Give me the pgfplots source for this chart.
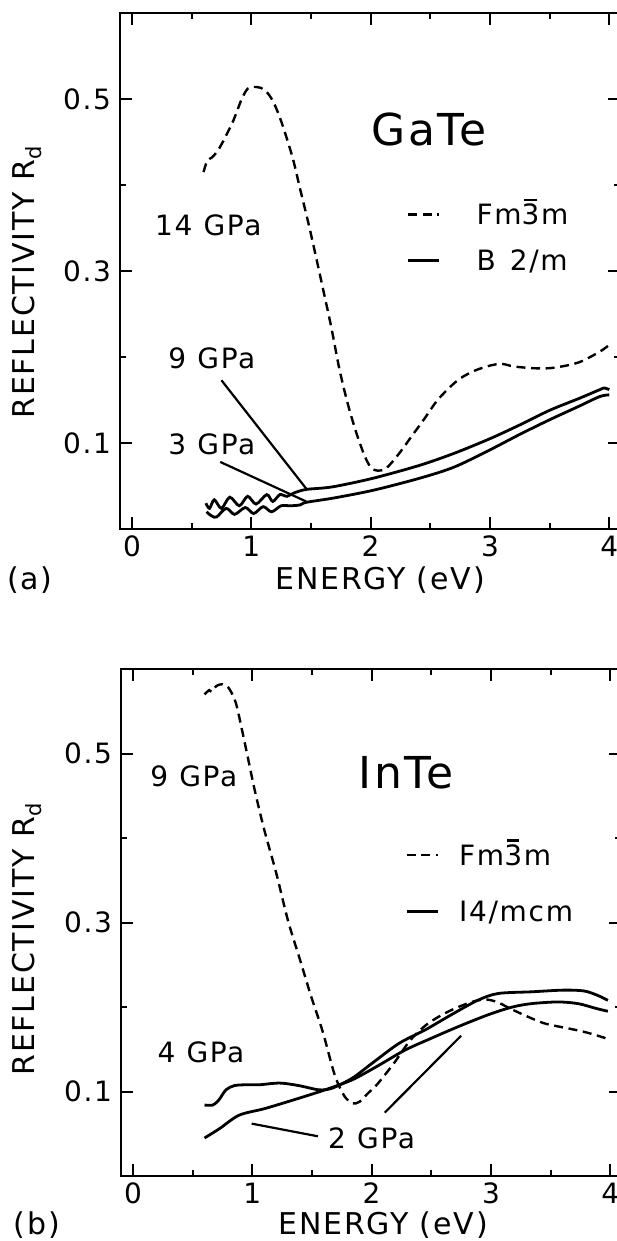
\documentclass[border=0pt]{standalone}
\usepackage{fontspec}
\setmainfont{DejaVu Sans}[LetterSpace=6]
\usepackage{pgfplots}
\pgfplotsset{compat=1.18}

% 3 with a bar over it (space group symbol)
\newcommand{\bthree}{\makebox[0pt][l]{\hspace{0.1em}\rule[0.84em]{0.44em}{0.08em}}3}
\newcommand{\lblfont}{\fontsize{14}{16}\selectfont}
\newcommand{\axfont}{\fontsize{15}{17}\selectfont}

\pgfplotsset{
  panel/.style={
    scale only axis, width=250pt,
    xmin=-0.1, xmax=4.09, ymin=0, ymax=0.6,
    xtick={0,1,2,3,4}, xticklabels={0,1,2,3,4},
    minor xtick={0.5,1.5,2.5,3.5},
    ytick={0.1,0.3,0.5}, yticklabels={0.1,0.3,0.5},
    minor ytick={0.2,0.4},
    tick align=inside, major tick length=6pt, minor tick length=3pt,
    every tick/.style={black, line width=1pt},
    axis line style={line width=1.2pt},
    tick label style={font=\lblfont},
    yticklabel style={xshift=-1pt},
    /pgf/number format/assume math mode=true,
    legend cell align=left,
    legend image code/.code={\draw[##1] (0pt,0pt) -- (15.5pt,0pt);},
    clip=false,
  },
  curve/.style={black, line width=1.4pt, smooth, tension=0.5},
  dcurve/.style={curve, line width=1.2pt, dash pattern=on 4.5pt off 2.8pt},
}

\begin{document}
\begin{tikzpicture}
% ---------------- (a) GaTe ----------------
\begin{axis}[panel, at={(60pt,-264.5pt)}, anchor=south west, height=258pt,
  legend style={draw=none, fill=none, at={(axis cs:2.30,0.378)}, anchor=north west,
    inner sep=0pt, row sep=13pt, column sep=18pt,
    nodes={inner sep=0pt, text height=10pt, text depth=0pt, font=\lblfont}}]
\addplot[dcurve] coordinates {
 (0.60,0.415) (0.63,0.428) (0.67,0.432) (0.72,0.440) (0.78,0.455) (0.85,0.475)
 (0.92,0.500) (0.97,0.512) (1.02,0.514) (1.08,0.513) (1.13,0.508) (1.18,0.498)
 (1.23,0.482) (1.28,0.462) (1.35,0.430) (1.41,0.395) (1.48,0.355) (1.54,0.318)
 (1.60,0.280) (1.67,0.235) (1.74,0.185) (1.81,0.145) (1.88,0.112) (1.95,0.085)
 (2.00,0.072) (2.05,0.068) (2.13,0.0705) (2.24,0.088) (2.35,0.109) (2.45,0.128)
 (2.55,0.148) (2.65,0.163) (2.75,0.175) (2.87,0.184) (3.00,0.190) (3.10,0.192)
 (3.20,0.189) (3.36,0.187) (3.50,0.187) (3.64,0.190) (3.75,0.194) (3.84,0.200)
 (3.93,0.207) (4.00,0.214)};
\addlegendentry{Fm\bthree m}
% 9 GPa
\addplot[curve] coordinates {
 (0.62,0.030) (0.65,0.024) (0.69,0.034) (0.75,0.024) (0.82,0.037) (0.90,0.027)
 (0.97,0.038) (1.04,0.029) (1.13,0.040) (1.18,0.032) (1.24,0.040) (1.30,0.038)
 (1.36,0.042) (1.46,0.046) (1.68,0.049) (2.02,0.059) (2.41,0.074) (2.70,0.088)
 (3.00,0.105) (3.25,0.121) (3.50,0.138) (3.75,0.152) (3.92,0.162) (3.96,0.164)
 (4.00,0.162)};
\addlegendentry{B\hspace{0.5em}2/m}
% 3 GPa
\addplot[curve, forget plot] coordinates {
 (0.625,0.020) (0.67,0.015) (0.71,0.014) (0.79,0.024) (0.86,0.017) (0.95,0.025)
 (1.02,0.018) (1.10,0.026) (1.17,0.020) (1.25,0.027) (1.33,0.027) (1.41,0.028)
 (1.46,0.031) (1.69,0.036) (2.02,0.045) (2.41,0.059) (2.70,0.072) (3.00,0.092)
 (3.25,0.110) (3.50,0.127) (3.75,0.143) (3.92,0.154) (4.00,0.156)};
\draw[line width=1.1pt] (axis cs:0.75,0.173) -- (axis cs:1.46,0.047);
\draw[line width=1.1pt] (axis cs:0.74,0.078) -- (axis cs:1.46,0.032);
\node[font=\fontsize{22}{25}\selectfont] at (axis cs:2.49,0.464) {GaTe};
\node[font=\lblfont] at (axis cs:0.64,0.353) {14\hspace{0.4em}GPa};
\node[font=\lblfont] at (axis cs:0.67,0.198) {9\hspace{0.4em}GPa};
\node[font=\lblfont] at (axis cs:0.67,0.098) {3\hspace{0.4em}GPa};
\end{axis}

% ---------------- (b) InTe ----------------
\begin{axis}[panel, at={(60.5pt,-588pt)}, anchor=south west, height=253.5pt,
  legend style={draw=none, fill=none, at={(axis cs:2.28,0.392)}, anchor=north west,
    inner sep=0pt, row sep=18pt, column sep=10pt,
    nodes={inner sep=0pt, text height=10pt, text depth=0pt, font=\lblfont}}]
% 9 GPa
\addplot[dcurve] coordinates {
 (0.60,0.570) (0.64,0.575) (0.66,0.573) (0.70,0.580) (0.75,0.582) (0.80,0.578)
 (0.85,0.565) (0.88,0.550) (0.95,0.504) (1.02,0.457) (1.10,0.410) (1.20,0.359)
 (1.30,0.302) (1.40,0.256) (1.49,0.214) (1.59,0.171) (1.69,0.120) (1.77,0.095)
 (1.84,0.086) (1.90,0.088) (1.97,0.098) (2.05,0.109) (2.19,0.134) (2.32,0.160)
 (2.45,0.178) (2.58,0.190) (2.71,0.199) (2.84,0.206) (2.95,0.209) (3.05,0.206)
 (3.15,0.199) (3.27,0.191) (3.44,0.181) (3.60,0.176) (3.77,0.171) (3.92,0.165)
 (3.98,0.162)};
\addlegendentry{Fm\bthree m}
% 4 GPa
\addplot[curve] coordinates {
 (0.60,0.084) (0.67,0.084) (0.72,0.090) (0.78,0.102) (0.85,0.107) (0.95,0.108)
 (1.06,0.108) (1.23,0.110) (1.39,0.107) (1.56,0.102) (1.67,0.104) (1.84,0.116)
 (2.00,0.133) (2.23,0.157) (2.45,0.173) (2.67,0.191) (2.89,0.208) (3.06,0.216)
 (3.34,0.218) (3.61,0.220) (3.78,0.219) (3.89,0.214) (3.98,0.208)};
\addlegendentry{I4/mcm}
% 2 GPa
\addplot[curve, forget plot] coordinates {
 (0.60,0.045) (0.725,0.056) (0.89,0.072) (1.11,0.080) (1.39,0.092) (1.61,0.102)
 (1.84,0.114) (2.06,0.131) (2.28,0.149) (2.50,0.163) (2.73,0.177) (2.98,0.191)
 (3.18,0.200) (3.34,0.204) (3.56,0.206) (3.73,0.204) (3.89,0.198) (3.98,0.195)};
\draw[line width=1.1pt] (axis cs:0.995,0.062) -- (axis cs:1.55,0.047);
\draw[line width=1.1pt] (axis cs:2.11,0.075) -- (axis cs:2.75,0.166);
\node[font=\fontsize{22}{25}\selectfont] at (axis cs:2.29,0.477) {InTe};
\node[font=\lblfont] at (axis cs:0.51,0.473) {9\hspace{0.4em}GPa};
\node[font=\lblfont] at (axis cs:0.57,0.146) {4\hspace{0.4em}GPa};
\node[font=\lblfont] at (axis cs:2.00,0.045) {2\hspace{0.4em}GPa};
\end{axis}

% outer labels
\node[rotate=90, font=\axfont] at (13.5pt,-141pt) {REFLECTIVITY R\textsubscript{d}};
\node[rotate=90, font=\axfont] at (13.5pt,-469.5pt) {REFLECTIVITY R\textsubscript{d}};
\node[font=\axfont] at (190pt,-290pt) {ENERGY (eV)};
\node[font=\axfont] at (191.5pt,-612.5pt) {ENERGY (eV)};
\node[font=\axfont] at (15pt,-290pt) {(a)};
\node[font=\axfont] at (18.5pt,-612.5pt) {(b)};

\pgfresetboundingbox
\path[use as bounding box] (0pt,0pt) rectangle (308pt,-620.5pt);
\end{tikzpicture}
\end{document}
